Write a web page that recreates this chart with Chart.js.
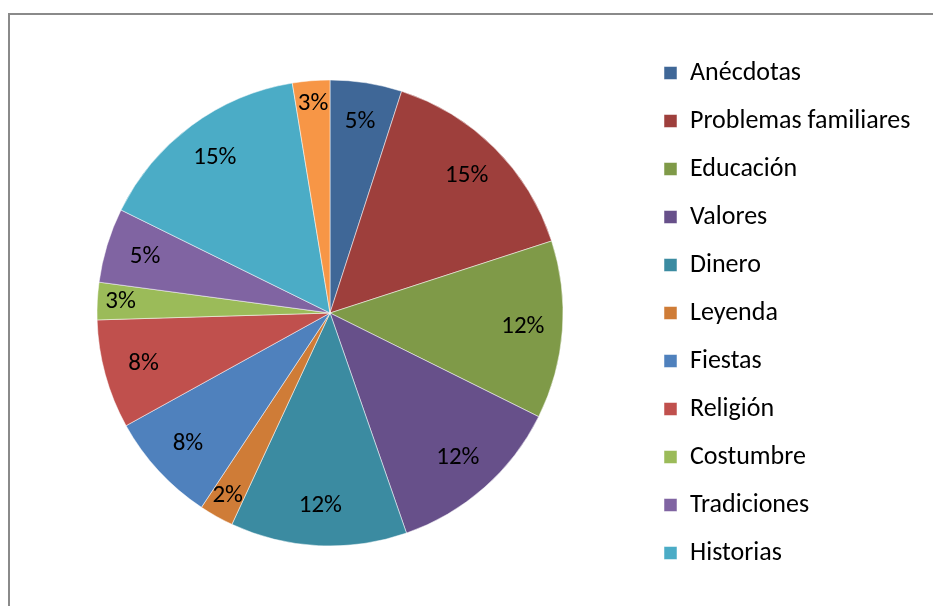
<!DOCTYPE html>
<html>
<head>
<meta charset="utf-8">
<script src="https://cdn.jsdelivr.net/npm/chart.js@4"></script>
<style>
  html, body { margin: 0; padding: 0; background: #ffffff; }
  #wrap { position: relative; width: 933px; height: 606px; overflow: hidden; }
  #frame { position: absolute; left: 8px; top: 13px; width: 940px; height: 620px;
           border-top: 2px solid #8a8a8a; border-left: 2px solid #8a8a8a; box-sizing: border-box; }
  #c { position: absolute; left: 0; top: 0; }
</style>
</head>
<body>
<div id="wrap">
  <div id="frame"></div>
  <canvas id="c" width="933" height="606"></canvas>
</div>
<script>
// ---- data ----
const categories = ["Anécdotas", "Problemas familiares", "Educación", "Valores", "Dinero",
                    "Leyenda", "Fiestas", "Religión", "Costumbre", "Tradiciones", "Historias", ""];
const values = [5.0, 15.1, 12.4, 12.4, 12.3, 2.4, 7.7, 7.6, 2.6, 5.2, 15.2, 2.6];
const sliceColors = ["#3F6797", "#9E3F3C", "#7F9A48", "#67508A", "#3B8BA1", "#CF7C37",
                     "#4F81BD", "#C0504D", "#9BBB59", "#8064A2", "#4BACC6", "#F79646"];

const FONT_FAMILY = "Carlito, Calibri, Lato, sans-serif";
const FS = 26;
const LABEL_FS = 25;
const LEG_PAD = 22;
const BOX = 13;

// measure legend text so the legend box starts near x=664
const mctx = document.createElement('canvas').getContext('2d');
mctx.font = FS + "px " + FONT_FAMILY;
let maxW = 0;
categories.forEach(c => { if (c) maxW = Math.max(maxW, mctx.measureText(c).width); });
const legendWidth = LEG_PAD + (BOX + FS / 2 + maxW) + 10;
const legendLeft = 642;
const padRight = Math.max(0, 933 - legendLeft - legendWidth);
const padLeft = 2 * 330 - legendLeft;

const total = values.reduce((a, b) => a + b, 0);

const pctLabels = {
  id: 'pctLabels',
  afterDatasetsDraw(chart) {
    const ctx = chart.ctx;
    const meta = chart.getDatasetMeta(0);
    ctx.save();
    ctx.font = LABEL_FS + "px " + FONT_FAMILY;
    ctx.fillStyle = "#000000";
    ctx.textAlign = "center";
    ctx.textBaseline = "middle";
    meta.data.forEach((arc, i) => {
      const p = arc.getProps(['x', 'y', 'startAngle', 'endAngle', 'outerRadius'], true);
      const mid = (p.startAngle + p.endAngle) / 2;
      const share = values[i] / total;
      const f = share < 0.035 ? 0.9 : 0.83;
      const r = p.outerRadius * f;
      const txt = Math.round(share * 100) + "%";
      ctx.fillText(txt, p.x + Math.cos(mid) * r, p.y + Math.sin(mid) * r);
    });
    ctx.restore();
  }
};

new Chart(document.getElementById('c'), {
  type: 'pie',
  data: {
    labels: categories,
    datasets: [{
      data: values,
      backgroundColor: sliceColors,
      borderColor: "#ffffff",
      borderWidth: 0.5,
      radius: 233
    }]
  },
  options: {
    responsive: false,
    animation: false,
    events: [],
    layout: { padding: { left: padLeft, right: padRight, top: 20, bottom: 0 } },
    plugins: {
      tooltip: { enabled: false },
      legend: {
        position: 'right',
        align: 'center',
        labels: {
          boxWidth: BOX,
          boxHeight: BOX,
          padding: LEG_PAD,
          color: "#000000",
          font: { family: FONT_FAMILY, size: FS },
          filter: (item) => item.text !== ""
        }
      }
    }
  },
  plugins: [pctLabels]
});
</script>
</body>
</html>
